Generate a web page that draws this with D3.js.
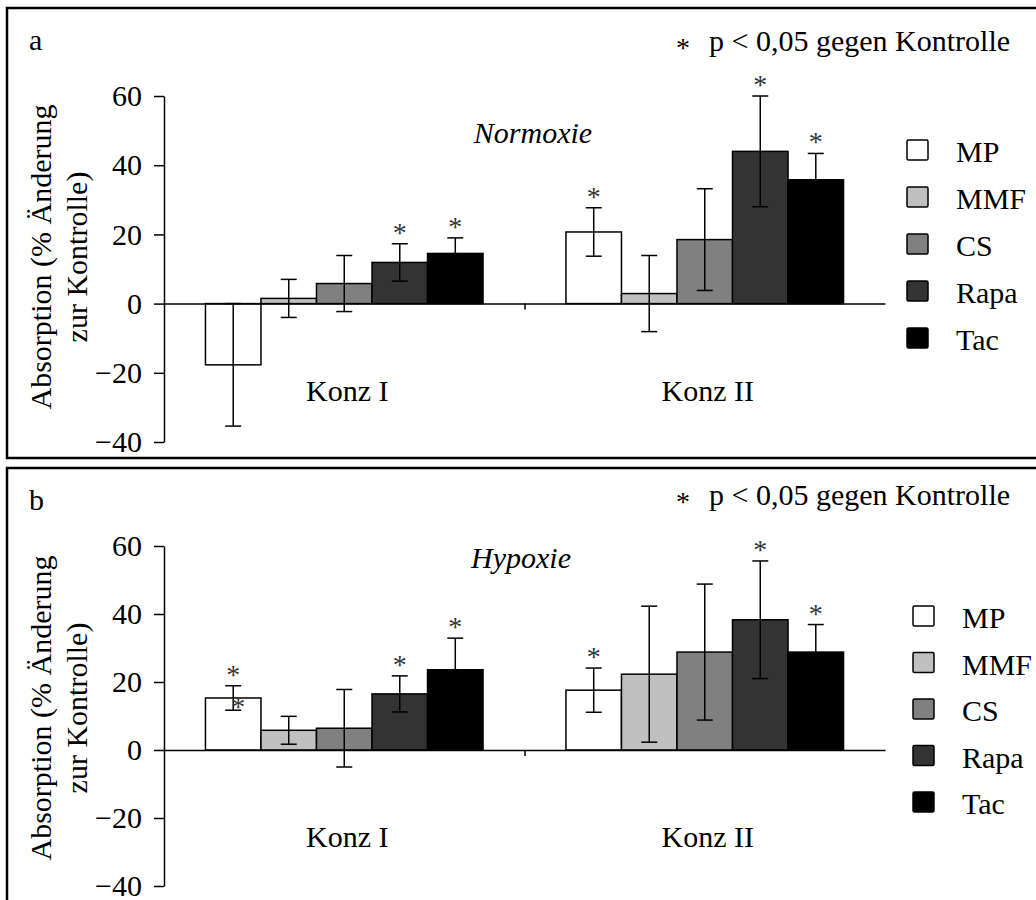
<!DOCTYPE html>
<html>
<head>
<meta charset="utf-8">
<script src="https://cdn.jsdelivr.net/npm/d3@7"></script>
<style>
  body { margin: 0; background: #fff; }
  svg { display: block; font-family: "Liberation Serif", "Times New Roman", serif; }
</style>
</head>
<body>
<svg id="chart" width="1036" height="900"></svg>
<script>
const series = ['MP', 'MMF', 'CS', 'Rapa', 'Tac'];
const fills = ['#ffffff', '#c0c0c0', '#808080', '#333333', '#000000'];
const groups = ['Konz I', 'Konz II'];
const yTicks = [-40, -20, 0, 20, 40, 60];

// Normoxie (rows = Konz I, Konz II)
const normMean = [[-17.7, 1.5, 5.8, 11.9, 14.5], [20.7, 2.9, 18.5, 44.0, 35.8]];
const normErr  = [[17.7, 5.5, 8.1, 5.4, 4.5], [7.0, 11.0, 14.7, 16.0, 7.6]];
const normSig  = [[0, 0, 0, 1, 1], [1, 0, 0, 1, 1]];

// Hypoxie
const hypMean = [[15.3, 5.8, 6.4, 16.5, 23.6], [17.6, 22.3, 28.8, 38.3, 28.8]];
const hypErr  = [[3.6, 4.1, 11.4, 5.3, 9.3], [6.5, 20.0, 20.0, 17.3, 8.1]];
const hypSig  = [[1, 0, 0, 1, 1], [1, 0, 0, 1, 1]];

const svg = d3.select('#chart');
const xLeft = 164, xRight = 885;

// layout of both panels
const panels = [
  { label: 'a', title: 'Normoxie', mean: normMean, err: normErr, sig: normSig,
    boxTop: 8, boxH: 450, yTop: 96, yBot: 442, labelY: 50, noteY: 51,
    titleX: 533, titleY: 143, legX: 907, legY: 140, legStep: 47, ytitleY: 257,
    stray: false },
  { label: 'b', title: 'Hypoxie', mean: hypMean, err: hypErr, sig: hypSig,
    boxTop: 468, boxH: 460, yTop: 546, yBot: 886, labelY: 510, noteY: 505,
    titleX: 521, titleY: 568, legX: 913, legY: 606, legStep: 46.5, ytitleY: 708,
    stray: true }
];

const x0 = d3.scaleBand().domain(groups).range([xLeft, xRight])
  .paddingInner(0.23).paddingOuter(0.115);
const x1 = d3.scaleBand().domain(series).range([0, x0.bandwidth()]);
const color = d3.scaleOrdinal().domain(series).range(fills);

panels.forEach(p => {
  const g = svg.append('g');

  g.append('rect')
    .attr('x', 7).attr('y', p.boxTop)
    .attr('width', 1060).attr('height', p.boxH)
    .attr('fill', 'none').attr('stroke', '#000').attr('stroke-width', 2.5);

  const y = d3.scaleLinear().domain([-40, 60]).range([p.yBot, p.yTop]);

  // bars
  const rows = [];
  groups.forEach((grp, gi) => series.forEach((s, si) => {
    rows.push({ grp, s, v: p.mean[gi][si], e: p.err[gi][si], sig: p.sig[gi][si] });
  }));

  g.selectAll('rect.bar').data(rows).enter().append('rect')
    .attr('class', 'bar')
    .attr('x', d => x0(d.grp) + x1(d.s))
    .attr('y', d => y(Math.max(0, d.v)))
    .attr('width', x1.bandwidth())
    .attr('height', d => Math.abs(y(d.v) - y(0)))
    .attr('fill', d => color(d.s))
    .attr('stroke', '#000').attr('stroke-width', 1.5);

  // error bars
  const cx = d => x0(d.grp) + x1(d.s) + x1.bandwidth() / 2;
  const eb = g.selectAll('g.err').data(rows).enter().append('g')
    .attr('stroke', '#000').attr('stroke-width', 1.5);
  eb.append('line')
    .attr('x1', cx).attr('x2', cx)
    .attr('y1', d => y(d.v + d.e)).attr('y2', d => y(d.v - d.e));
  eb.append('line')
    .attr('x1', d => cx(d) - 8).attr('x2', d => cx(d) + 8)
    .attr('y1', d => y(d.v + d.e)).attr('y2', d => y(d.v + d.e));
  eb.append('line')
    .attr('x1', d => cx(d) - 8).attr('x2', d => cx(d) + 8)
    .attr('y1', d => y(d.v - d.e)).attr('y2', d => y(d.v - d.e));

  // significance stars
  g.selectAll('text.star').data(rows.filter(d => d.sig)).enter().append('text')
    .attr('class', 'star')
    .attr('x', cx)
    .attr('y', d => y(d.v + d.e) - 2)
    .attr('text-anchor', 'middle')
    .attr('font-size', 28).attr('fill', '#333')
    .text('*');

  if (p.stray) {
    const d = rows[0];
    g.append('text')
      .attr('x', cx(d) + 5).attr('y', y(d.v - d.e) + 6)
      .attr('text-anchor', 'middle')
      .attr('font-size', 28).attr('fill', '#333')
      .text('*');
  }

  // axes
  const yAxis = g.append('g')
    .attr('transform', `translate(${xLeft},0)`)
    .call(d3.axisLeft(y).tickValues(yTicks).tickSize(10).tickSizeOuter(0).tickPadding(12));
  yAxis.selectAll('text').attr('font-size', 30).attr('font-family', '"Liberation Serif", serif').attr('fill', '#000');
  yAxis.selectAll('line, path').attr('stroke', '#000').attr('stroke-width', 1.5);

  const xs = d3.scaleLinear().domain([0, 2]).range([xLeft, xRight]);
  const xAxis = g.append('g')
    .attr('transform', `translate(0,${y(0)})`)
    .call(d3.axisBottom(xs).tickValues([1]).tickFormat('').tickSize(6).tickSizeOuter(0));
  xAxis.selectAll('line, path').attr('stroke', '#000').attr('stroke-width', 1.5);

  // group labels
  g.selectAll('text.grp').data(groups).enter().append('text')
    .attr('class', 'grp')
    .attr('x', d => x0(d) + x0.bandwidth() / 2 + 3)
    .attr('y', y(0) + 97)
    .attr('text-anchor', 'middle')
    .attr('font-size', 30)
    .text(d => d);

  // y title
  const yt = g.append('text')
    .attr('transform', `translate(51,${p.ytitleY}) rotate(-90)`)
    .attr('text-anchor', 'middle')
    .attr('font-size', 30);
  yt.append('tspan').attr('x', 0).attr('y', 0).text('Absorption (% Änderung');
  yt.append('tspan').attr('x', 0).attr('y', 36).text('zur Kontrolle)');

  // panel letter, title, note
  g.append('text').attr('x', 29).attr('y', p.labelY).attr('font-size', 30).text(p.label);
  g.append('text').attr('x', p.titleX).attr('y', p.titleY)
    .attr('text-anchor', 'middle').attr('font-size', 30).attr('font-style', 'italic')
    .text(p.title);
  g.append('text').attr('x', 683).attr('y', p.noteY + 6)
    .attr('text-anchor', 'middle').attr('font-size', 28).text('*');
  g.append('text').attr('x', 709).attr('y', p.noteY)
    .attr('font-size', 30).text('p < 0,05 gegen Kontrolle');

  // legend
  const leg = g.selectAll('g.leg').data(series).enter().append('g')
    .attr('transform', (d, i) => `translate(${p.legX},${p.legY + i * p.legStep})`);
  leg.append('rect')
    .attr('width', 21).attr('height', 20).attr('rx', 1.5)
    .attr('fill', d => color(d))
    .attr('stroke', '#000').attr('stroke-width', 1.5);
  leg.append('text')
    .attr('x', 49).attr('y', 22)
    .attr('font-size', 30)
    .text(d => d);
});
</script>
</body>
</html>
